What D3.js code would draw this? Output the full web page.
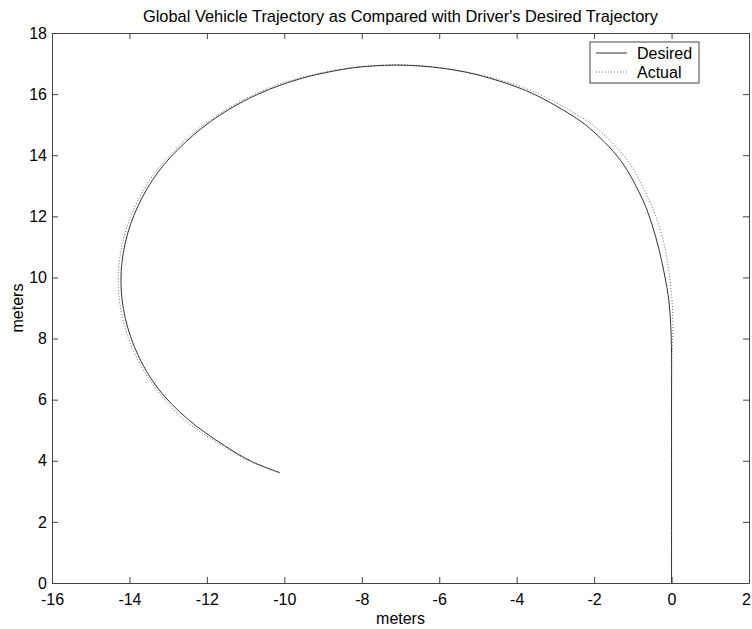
<!DOCTYPE html>
<html>
<head>
<meta charset="utf-8">
<script src="https://cdn.jsdelivr.net/npm/d3@7"></script>
<style>
  html, body { margin: 0; padding: 0; background: #fff; }
  svg { display: block; }
  text { font-family: "Liberation Sans", Arial, Helvetica, sans-serif; fill: #000; }
</style>
</head>
<body>
<svg id="chart" width="752" height="629"></svg>
<script>
// Driver's desired path (x, y in meters)
const desiredX = [0, 0, 0, 0, 0, -0.02, -0.07, -0.18, -0.32, -0.51, -0.74, -1.31, -2.12, -2.57, -3.06, -3.57, -4.12, -4.69, -5.28, -5.88, -6.49, -7.1, -7.72, -8.34, -9.54, -10.66, -11.68, -12.55, -13.27, -13.79, -14.11, -14.22, -14.11, -13.79, -13.27, -12.5, -11.55, -10.85, -10.11];
const desiredY = [0, 2, 4, 6, 7.5, 8.4, 9.26, 10.08, 10.9, 11.75, 12.53, 13.82, 14.89, 15.3, 15.67, 16.01, 16.29, 16.52, 16.71, 16.84, 16.92, 16.95, 16.92, 16.84, 16.52, 16.01, 15.3, 14.43, 13.43, 12.31, 11.12, 9.9, 8.68, 7.49, 6.38, 5.37, 4.5, 3.98, 3.61];

// Vehicle's actual path (x, y in meters)
const actualX = [0, 0, 0, 0, 0.03, 0.03, 0.01, -0.06, -0.16, -0.34, -0.58, -1.15, -1.98, -2.47, -2.98, -3.5, -4.07, -4.66, -5.27, -5.88, -6.49, -7.1, -7.74, -8.38, -9.6, -10.72, -11.74, -12.62, -13.34, -13.86, -14.18, -14.29, -14.18, -13.86, -13.33, -12.6, -11.6, -10.87, -10.12];
const actualY = [0, 3, 6, 7.1, 8.0, 8.8, 9.3, 10.1, 10.9, 11.75, 12.53, 13.85, 14.93, 15.35, 15.72, 16.05, 16.32, 16.54, 16.72, 16.85, 16.93, 16.96, 16.93, 16.85, 16.53, 16.02, 15.3, 14.43, 13.43, 12.31, 11.12, 9.9, 8.68, 7.49, 6.38, 5.36, 4.49, 3.97, 3.6];

const xTicks = [-16, -14, -12, -10, -8, -6, -4, -2, 0, 2];
const yTicks = [0, 2, 4, 6, 8, 10, 12, 14, 16, 18];
const seriesNames = ["Desired", "Actual"];

const svg = d3.select("#chart");
const plotLeft = 52, plotRight = 749, plotTop = 33, plotBottom = 583;

const x = d3.scaleLinear().domain([-16, 2]).range([plotLeft, plotRight]);
const y = d3.scaleLinear().domain([0, 18]).range([plotBottom, plotTop]);

const axisColor = "#444";
const tickLen = 6;
const plainNumber = d => String(d);   // ASCII hyphen for negatives

// Axes with inward ticks on all four sides
function styleAxis(g) {
  g.select(".domain").attr("stroke", axisColor).attr("stroke-width", 1);
  g.selectAll(".tick line").attr("stroke", axisColor);
}

svg.append("g")
  .attr("transform", `translate(0,${plotBottom})`)
  .call(d3.axisBottom(x).tickValues(xTicks).tickFormat(plainNumber).tickSizeInner(-tickLen).tickSizeOuter(0))
  .call(styleAxis)
  .call(g => g.selectAll("text").attr("font-size", 16).attr("dy", null).attr("y", 22))
  // keep the last label inside the page edge
  .call(g => g.selectAll(".tick").filter(d => d === 2).select("text").attr("x", -3));

svg.append("g")
  .attr("transform", `translate(0,${plotTop})`)
  .call(d3.axisTop(x).tickValues(xTicks).tickSizeInner(-tickLen).tickSizeOuter(0).tickFormat(""))
  .call(styleAxis);

svg.append("g")
  .attr("transform", `translate(${plotLeft},0)`)
  .call(d3.axisLeft(y).tickValues(yTicks).tickFormat(plainNumber).tickSizeInner(-tickLen).tickSizeOuter(0))
  .call(styleAxis)
  .call(g => g.selectAll("text").attr("font-size", 16).attr("x", -5));

svg.append("g")
  .attr("transform", `translate(${plotRight},0)`)
  .call(d3.axisRight(y).tickValues(yTicks).tickSizeInner(-tickLen).tickSizeOuter(0).tickFormat(""))
  .call(styleAxis);

// Trajectories
const line = d3.line()
  .x(d => x(d[0]))
  .y(d => y(d[1]))
  .curve(d3.curveCatmullRom.alpha(0.5));

const desired = desiredX.map((v, i) => [v, desiredY[i]]);
const actual = actualX.map((v, i) => [v, actualY[i]]);

svg.append("path")
  .datum(actual)
  .attr("d", line)
  .attr("fill", "none")
  .attr("stroke", "#666")
  .attr("stroke-width", 1)
  .attr("stroke-dasharray", "1,2");

svg.append("path")
  .datum(desired)
  .attr("d", line)
  .attr("fill", "none")
  .attr("stroke", "#333")
  .attr("stroke-width", 1);

// Title and axis labels
svg.append("text")
  .attr("x", (plotLeft + plotRight) / 2)
  .attr("y", 22)
  .attr("text-anchor", "middle")
  .attr("font-size", 16.4)
  .text("Global Vehicle Trajectory as Compared with Driver's Desired Trajectory");

svg.append("text")
  .attr("x", (plotLeft + plotRight) / 2)
  .attr("y", 624)
  .attr("text-anchor", "middle")
  .attr("font-size", 16)
  .text("meters");

svg.append("text")
  .attr("transform", `translate(23,${(plotTop + plotBottom) / 2}) rotate(-90)`)
  .attr("text-anchor", "middle")
  .attr("font-size", 16)
  .text("meters");

// Legend
const legend = svg.append("g");
legend.append("rect")
  .attr("x", 590).attr("y", 42)
  .attr("width", 109).attr("height", 41)
  .attr("fill", "#fff")
  .attr("stroke", axisColor);

const legendStyles = [
  { stroke: "#333", dash: null },
  { stroke: "#666", dash: "1,2" }
];
seriesNames.forEach((name, i) => {
  const ly = 53 + i * 19;
  legend.append("line")
    .attr("x1", 596).attr("x2", 627)
    .attr("y1", ly).attr("y2", ly)
    .attr("stroke", legendStyles[i].stroke)
    .attr("stroke-dasharray", legendStyles[i].dash);
  legend.append("text")
    .attr("x", 637).attr("y", ly + 6)
    .attr("font-size", 16)
    .text(name);
});
</script>
</body>
</html>
